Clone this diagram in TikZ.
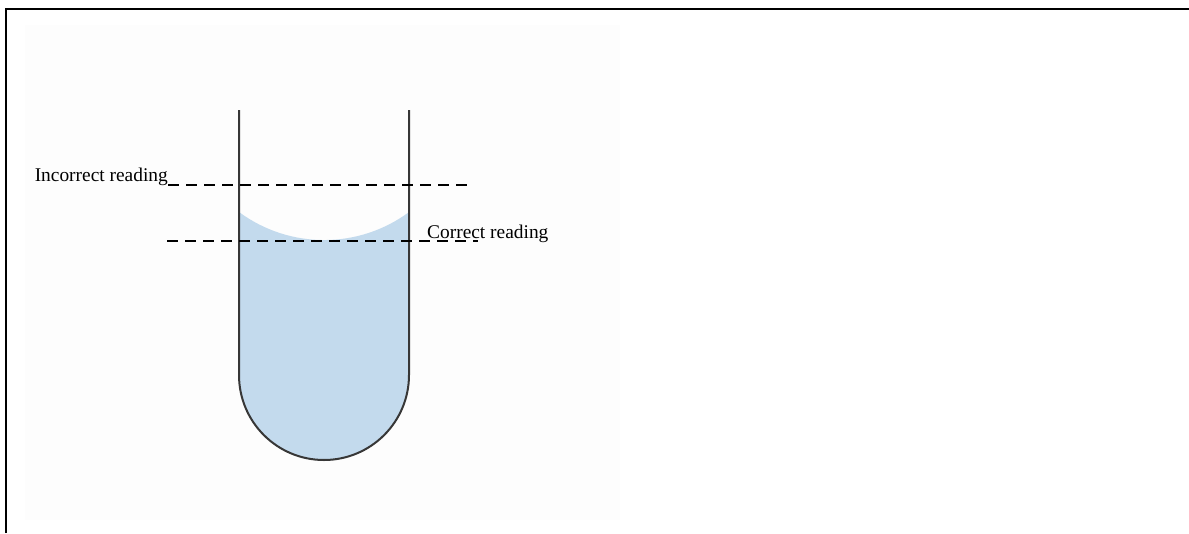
\documentclass[tikz,border=0pt]{standalone}
\usepackage{fontspec}
\setmainfont{Liberation Serif}
\definecolor{liquid}{RGB}{195,218,237}
\definecolor{wallc}{RGB}{55,55,55}
\definecolor{panel}{RGB}{253,253,253}
\tikzset{
  wall/.style={draw=wallc, line width=2pt},
  reading/.style={draw=black, line width=2.4pt, dash pattern=on 11pt off 7pt},
  lbl/.style={inner sep=0pt, font=\fontsize{19.4}{23}\selectfont}
}
\begin{document}
\begin{tikzpicture}[x=1pt,y=-1pt]
\useasboundingbox (0,0) rectangle (1189,533);
\fill[white] (0,0) rectangle (1189,533);
% faint panel
\fill[panel] (25,25) rectangle (620,520);
% frame
\draw[line width=2pt, black] (6,533) -- (6,9) -- (1189,9);
% liquid
\fill[liquid] (239,212) arc[start angle=126.5, end angle=53.5, radius=143]
  -- (409,375) arc[start angle=0, end angle=180, radius=85] -- cycle;
% tube
\coordinate (lt) at (239,110);
\coordinate (rt) at (409,110);
\coordinate (lb) at (239,375);
\coordinate (rb) at (409,375);
\draw[wall] (lt) -- (lb) arc[start angle=180, end angle=0, radius=85] -- (rt);
% reading lines
\coordinate (i1) at (168,185);
\coordinate (i2) at (468,185);
\coordinate (c1) at (167,241);
\coordinate (c2) at (478,241);
\draw[reading] (i1) -- (i2);
\draw[reading] (c1) -- (c2);
% labels
\node[lbl, anchor=base east] (inc) at (168,181) {Incorrect reading};
\node[lbl, anchor=base west] (cor) at (427,238) {Correct reading};
\end{tikzpicture}
\end{document}
